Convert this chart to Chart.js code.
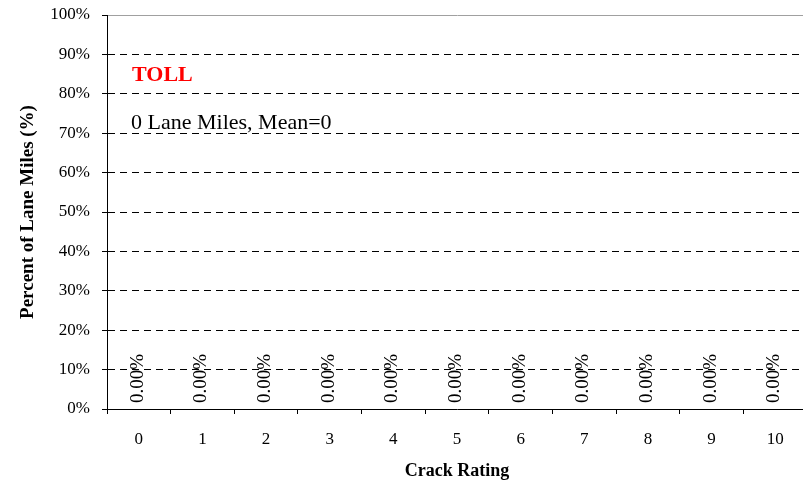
<!DOCTYPE html>
<html>
<head>
<meta charset="utf-8">
<script src="https://cdn.jsdelivr.net/npm/chart.js@4/dist/chart.umd.min.js"></script>
<style>
html,body{margin:0;padding:0;background:#fff;overflow:hidden;}
canvas{display:block;}
</style>
</head>
<body>
<canvas id="c" width="807" height="484"></canvas>
<script>
const categories = ["0","1","2","3","4","5","6","7","8","9","10"];
const percentValues = [0,0,0,0,0,0,0,0,0,0,0];
const yTickValues = [0,10,20,30,40,50,60,70,80,90,100];
const chartLabel = "TOLL";
const summaryText = "0 Lane Miles, Mean=0";
const xTitle = "Crack Rating";
const yTitle = "Percent of Lane Miles (%)";

const FONT = "'Liberation Serif', 'Times New Roman', serif";

const annotationPlugin = {
  id: 'annot',
  afterDraw(chart) {
    const ctx = chart.ctx, a = chart.chartArea;
    ctx.save();
    ctx.textAlign = 'left';
    ctx.textBaseline = 'alphabetic';
    ctx.fillStyle = '#ff0000';
    ctx.font = 'bold 22px ' + FONT;
    ctx.fillText(chartLabel, a.left + 25, 81);
    ctx.fillStyle = '#000000';
    ctx.font = '22px ' + FONT;
    ctx.fillText(summaryText, a.left + 24, 129);
    ctx.restore();
  }
};

const dataLabelPlugin = {
  id: 'dlabels',
  afterDatasetsDraw(chart) {
    const ctx = chart.ctx;
    const meta = chart.getDatasetMeta(0);
    ctx.save();
    ctx.fillStyle = '#000';
    ctx.font = '19px ' + FONT;
    ctx.textAlign = 'left';
    ctx.textBaseline = 'middle';
    meta.data.forEach((bar, i) => {
      const v = chart.data.datasets[0].data[i];
      ctx.save();
      ctx.translate(bar.x - 1, bar.y - 6);
      ctx.rotate(-Math.PI / 2);
      ctx.fillText(v.toFixed(2) + '%', 0, 0);
      ctx.restore();
    });
    ctx.restore();
  }
};

new Chart(document.getElementById('c'), {
  type: 'bar',
  data: {
    labels: categories,
    datasets: [{
      data: percentValues,
      backgroundColor: '#000080',
      borderWidth: 0
    }]
  },
  options: {
    responsive: false,
    animation: false,
    layout: { padding: { top: 15, right: 0, left: 0, bottom: 0 } },
    plugins: { legend: { display: false }, tooltip: { enabled: false } },
    scales: {
      x: {
        afterFit(s) { s.height = 75; s.paddingLeft = 0; s.paddingRight = 0; },
        grid: { offset: true, drawOnChartArea: false, drawTicks: true, tickLength: 5, tickColor: '#000', lineWidth: 1 },
        border: { color: '#000', width: 1 },
        ticks: { color: '#000', font: { family: FONT, size: 17 }, padding: 15, maxRotation: 0 },
        title: { display: true, text: xTitle, color: '#000', font: { family: FONT, size: 18, weight: 'bold' }, padding: { top: 0, bottom: 2 } }
      },
      y: {
        min: 0, max: 100,
        afterFit(s) { s.width = 107; s.paddingTop = 0; s.paddingBottom = 0; },
        afterBuildTicks(s) { s.ticks = yTickValues.map(v => ({ value: v })); },
        grid: {
          color: (c) => c.tick && c.tick.value === 100 ? '#a0a0a0' : (c.tick && c.tick.value === 0 ? 'rgba(0,0,0,0)' : '#000'),
          tickColor: '#000',
          tickLength: 5,
          lineWidth: 1
        },
        border: {
          color: '#000', width: 1,
          dash: (c) => (c.type === 'tick' && c.tick && c.tick.value > 0 && c.tick.value < 100) ? [7, 5] : []
        },
        ticks: { color: '#000', font: { family: FONT, size: 17 }, padding: 12, callback: (v) => v + '%' },
        title: { display: true, text: yTitle, color: '#000', font: { family: FONT, size: 19, weight: 'bold' }, padding: { top: 17, bottom: 0 } }
      }
    }
  },
  plugins: [annotationPlugin, dataLabelPlugin]
});
</script>
</body>
</html>
